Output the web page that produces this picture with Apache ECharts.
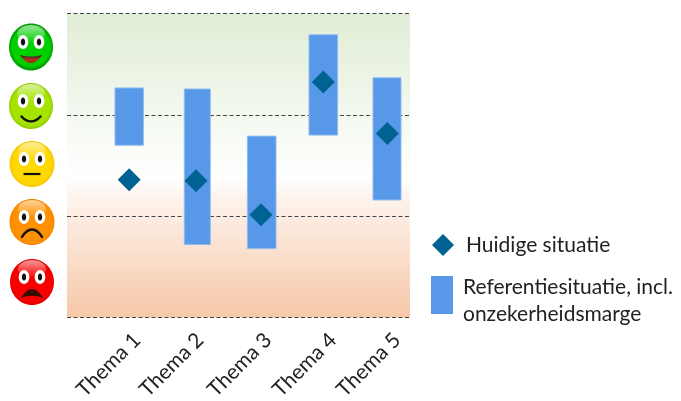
<!DOCTYPE html>
<html><head><meta charset="utf-8">
<style>html,body{margin:0;padding:0;background:#fff}#c{width:681px;height:401px}</style>
<script src="https://cdn.jsdelivr.net/npm/echarts@6/dist/echarts.min.js"></script>
</head><body><div id="c"></div>
<script>
const categories = ['Thema 1','Thema 2','Thema 3','Thema 4','Thema 5'];
const themePosition = [62.2, 130.3, 194.7, 256.3, 320];
const labelPosition = [70, 133, 201, 266, 330];
const currentPosition = [62.2, 129, 194, 256.3, 320.3];
const bandWidth = [28.4, 26, 28.6, 28.6, 28];
const refLow = [1.70, 0.72, 0.68, 1.80, 1.16];
const refHigh = [2.265, 2.255, 1.79, 2.79, 2.365];
const current = [1.36, 1.35, 1.015, 2.325, 1.815];
const nameCurrent = 'Huidige situatie';
const nameRef = 'Referentiesituatie, incl.\nonzekerheidsmarge';
const FONT = 'Lato';

const chart = echarts.init(document.getElementById('c'), null, {renderer:'canvas'});

function smiley(cx, cy, rx, ry, inner, outer, mouth){
  const eye = (dx)=>[
    {type:'ellipse',shape:{cx:cx+dx,cy:cy-5,rx:5.3,ry:7},style:{fill:'#fff'},z:12},
    {type:'ellipse',shape:{cx:cx+dx,cy:cy-5,rx:2.2,ry:3.6},style:{fill:'#111'},z:13}
  ];
  return [
    {type:'ellipse',shape:{cx,cy,rx,ry},z:10,style:{
      fill:new echarts.graphic.RadialGradient(0.5,0.5,0.5,[{offset:0,color:inner},{offset:0.85,color:inner},{offset:1,color:outer}])}},
    {type:'ellipse',shape:{cx,cy:cy-13,rx:14,ry:9},z:11,style:{
      fill:new echarts.graphic.LinearGradient(0,0,0,1,[{offset:0,color:'rgba(255,255,255,0.6)'},{offset:1,color:'rgba(255,255,255,0)'}])}},
    ...eye(-8),...eye(8),
    ...mouth(cx,cy)
  ];
}
const line = (x1,y1,cpy,x2,y2)=>({type:'bezierCurve',shape:{x1,y1,x2,y2,cpx1:x1+(x2-x1)*0.3,cpy1:cpy,cpx2:x1+(x2-x1)*0.7,cpy2:cpy},style:{stroke:'#111',lineWidth:2.4,fill:null,lineCap:'round'},z:13});
// closed mouth outline built from two quadratic curves between the same two corners
function mouthShape(x1,x2,y,c1,c2,fill){
  const pts=[], q=(t,c)=>[x1+(x2-x1)*t,(1-t)*(1-t)*y+2*t*(1-t)*c+t*t*y];
  for(let k=0;k<=16;k++)pts.push(q(k/16,c1));
  for(let k=16;k>=0;k--)pts.push(q(k/16,c2));
  return {type:'polygon',z:13,shape:{points:pts},style:{fill}};
}
const faces = [
  ...smiley(31,47,22,23.5,'#00d000','#00a000',(x,y)=>[mouthShape(x-11,x+11,y+8,y+11,y+24,new echarts.graphic.LinearGradient(0,0,0,1,[{offset:0,color:'#222'},{offset:0.6,color:'#b83020'},{offset:1,color:'#a02818'}]))]),
  ...smiley(31,106,22,23,'#a6e400','#96d000',(x,y)=>[line(x-9.5,y+10.5,y+17,x+9.5,y+10.5)]),
  ...smiley(32,164,22.5,23,'#ffd800','#f8c800',(x,y)=>[{type:'line',shape:{x1:x-8.5,y1:y+10,x2:x+8.5,y2:y+10},style:{stroke:'#111',lineWidth:2.2},z:13}]),
  ...smiley(32,222,22.5,23,'#ff9000','#f88800',(x,y)=>[line(x-10,y+15,y+5,x+10,y+15)]),
  ...smiley(32,282,22,23,'#f80000','#e80000',(x,y)=>[mouthShape(x-11,x+11,y+16,y-2,y+12,'#3a0c06')])
];

chart.setOption({
  animation:false,
  backgroundColor:'#fff',
  grid:{left:67,top:13.5,width:343,height:304,show:true,borderWidth:0,outerBoundsMode:'none',
    backgroundColor:new echarts.graphic.LinearGradient(0,0,0,1,[
      {offset:0,color:'#e0edd6'},{offset:0.5,color:'#fdfefc'},{offset:0.54,color:'#ffffff'},{offset:0.6,color:'#fef4ee'},{offset:1,color:'#f6c8a8'}])},
  xAxis:{type:'value',min:0,max:343,axisLine:{show:false},splitLine:{show:false},
    axisTick:{show:false},
    axisLabel:{customValues:labelPosition,rotate:45,margin:19,fontFamily:FONT,fontSize:21,color:'#222',
      formatter:(v)=>categories[labelPosition.indexOf(v)]||''}},
  yAxis:{type:'value',min:0,max:3,interval:1,axisLine:{show:false},axisTick:{show:false},axisLabel:{show:false},
    splitLine:{show:true,lineStyle:{color:'#444',type:[4,2.5],width:1}}},
  legend:[
    {show:true,data:[{name:nameCurrent,icon:'diamond'}],left:432,top:234,itemWidth:22,itemHeight:22,itemGap:0,padding:0,
      textStyle:{fontFamily:FONT,fontSize:21,color:'#222',padding:[0,0,0,7]},selectedMode:false},
    {show:true,data:[{name:nameRef,icon:'path://M0 0H22V38H0Z M0 50L0 50Z'}],left:431,top:274,itemWidth:22,itemHeight:50,itemGap:0,padding:0,
      textStyle:{fontFamily:FONT,fontSize:21,color:'#222',lineHeight:27,padding:[0,0,0,5]},selectedMode:false}
  ],
  graphic:faces,
  series:[
    {name:nameRef,type:'custom',z:3,
     data:categories.map((c,i)=>[themePosition[i],refLow[i],refHigh[i],bandWidth[i]]),
     encode:{x:0,y:[1,2]},
     itemStyle:{color:'#5898e8'},
     renderItem:(p,api)=>{
       const lo=api.coord([api.value(0),api.value(1)]), hi=api.coord([api.value(0),api.value(2)]);
       const w=api.size([api.value(3),0])[0];
       return {type:'rect',shape:{x:lo[0]-w/2,y:hi[1],width:w,height:lo[1]-hi[1]},
         style:{fill:'#5898e8',stroke:'#8fbcf0',lineWidth:1}};
     }},
    {name:nameCurrent,type:'scatter',z:5,symbol:'diamond',symbolSize:23,
     data:currentPosition.map((x,i)=>[x,current[i]]),
     itemStyle:{color:'#006292',opacity:1}}
  ]
});
</script></body></html>
